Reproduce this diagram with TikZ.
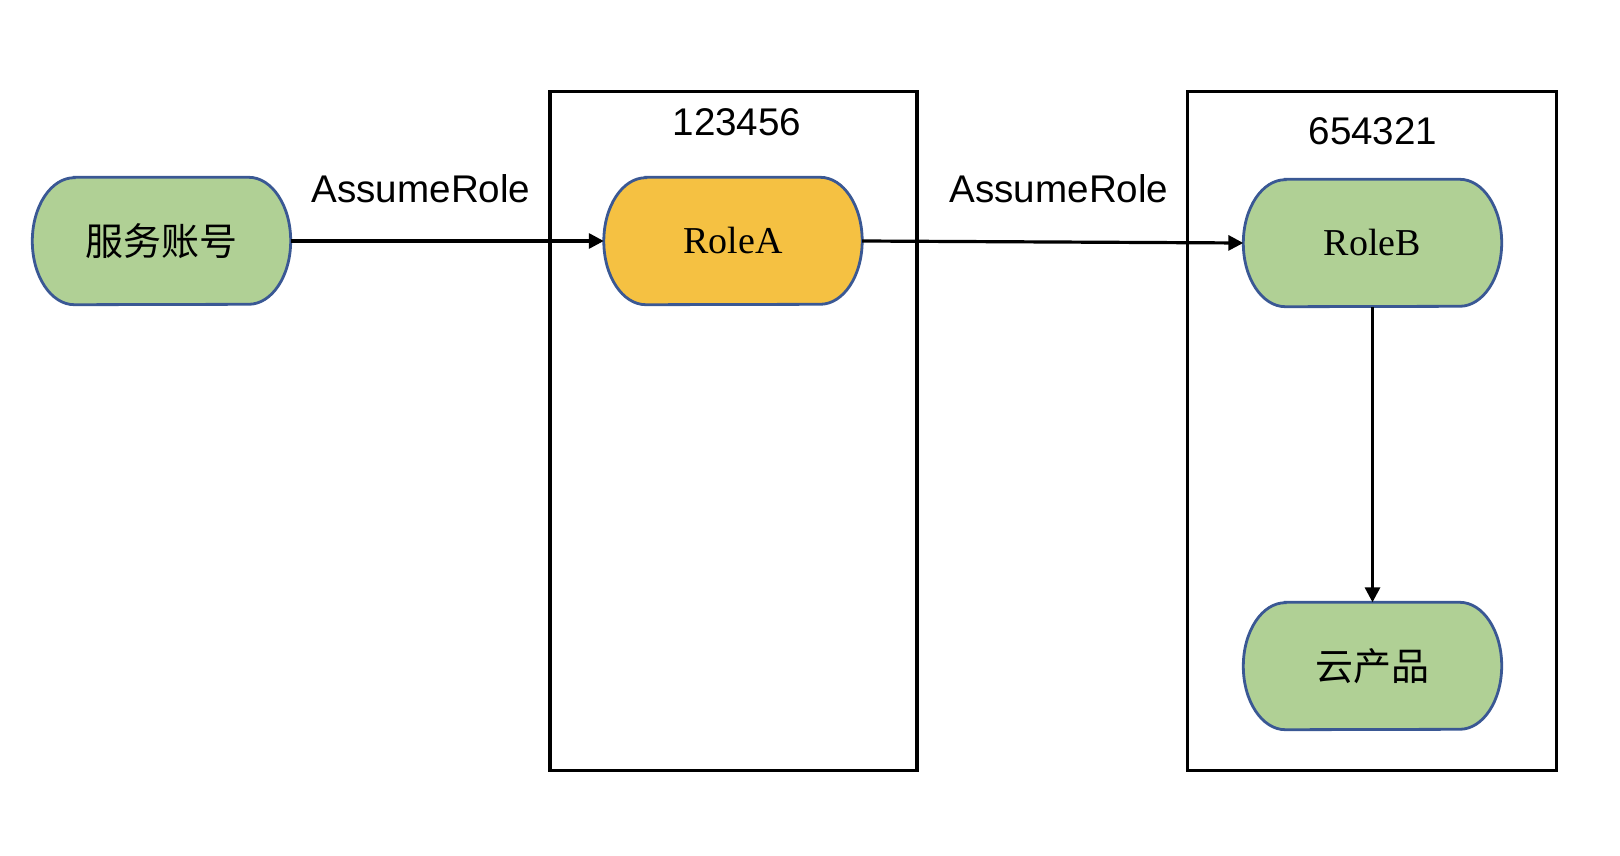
\documentclass[tikz,border=0pt]{standalone}
\usepackage{fontspec}
\setmainfont{Liberation Serif}
\newfontfamily\arialf{Liberation Sans}
\newfontfamily\cjkf{Noto Sans CJK SC}
\usetikzlibrary{arrows.meta,calc}
\pgfdeclarelayer{paper}
\pgfdeclarelayer{shapes}
\pgfsetlayers{paper,shapes,main}
\definecolor{pillgreen}{HTML}{B0D095}
\definecolor{pillgold}{HTML}{F5C142}
\definecolor{pillblue}{HTML}{3A5894}
\tikzset{
  pill/.style={inner sep=0pt, minimum width=258pt, minimum height=127pt, font=\fontsize{38}{40}\selectfont},
  pillline/.style={draw=pillblue, line width=2.8pt},
  frame/.style={draw=black, line width=3.8pt},
  lbl/.style={font=\arialf\fontsize{38.6}{40}\selectfont, inner sep=0pt},
  arr/.style={line width=3.2pt, -{Triangle[length=15pt,width=15pt]}},
}
\newcommand\pillshape[2]{%
  \path[pillline, fill=#2] ($(#1.north west)+(42,0)$) -- ($(#1.north east)+(-42,0)$)
    arc[start angle=90,end angle=-90,x radius=42,y radius=63.5]
    -- ($(#1.south west)+(42,0)$)
    arc[start angle=270,end angle=90,x radius=42,y radius=63.5] -- cycle;}
\begin{document}
\begin{tikzpicture}[x=1pt,y=1pt]
\useasboundingbox (0,0) rectangle (1620,-856);
\begin{pgfonlayer}{paper}
\fill[white] (0,0) rectangle (1620,-856);
\end{pgfonlayer}
% frames
\node[frame, inner sep=0pt, minimum width=367pt, minimum height=679pt] (f1) at (733.5,-431) {};
\node[frame, inner sep=0pt, minimum width=369pt, minimum height=679pt] (f2) at (1372,-431) {};
\node[lbl] (t1) at (737,-122) {123456};
\node[lbl] (t2) at (1373,-131) {654321};
% pills
\node[pill] (sa) at (161.5,-241) {\cjkf\fontsize{38}{40}\selectfont 服务账号};
\node[pill] (ra) at (733,-241) {\raisebox{-1pt}{RoleA}};
\node[pill] (rb) at (1372.5,-243) {RoleB};
\node[pill] (cp) at (1372.5,-666) {\cjkf\fontsize{38}{40}\selectfont 云产品};
\begin{pgfonlayer}{shapes}
\pillshape{sa}{pillgreen}
\pillshape{ra}{pillgold}
\pillshape{rb}{pillgreen}
\pillshape{cp}{pillgreen}
\end{pgfonlayer}
% labels
\node[lbl] (l1) at (421,-189) {AssumeRole};
\node[lbl] (l2) at (1059,-189) {AssumeRole};
% arrows
\draw[arr] (sa.east) -- (ra.west);
\draw[arr] (ra.east) -- (rb.west);
\draw[arr] (rb.south) -- (cp.north);
\end{tikzpicture}
\end{document}
